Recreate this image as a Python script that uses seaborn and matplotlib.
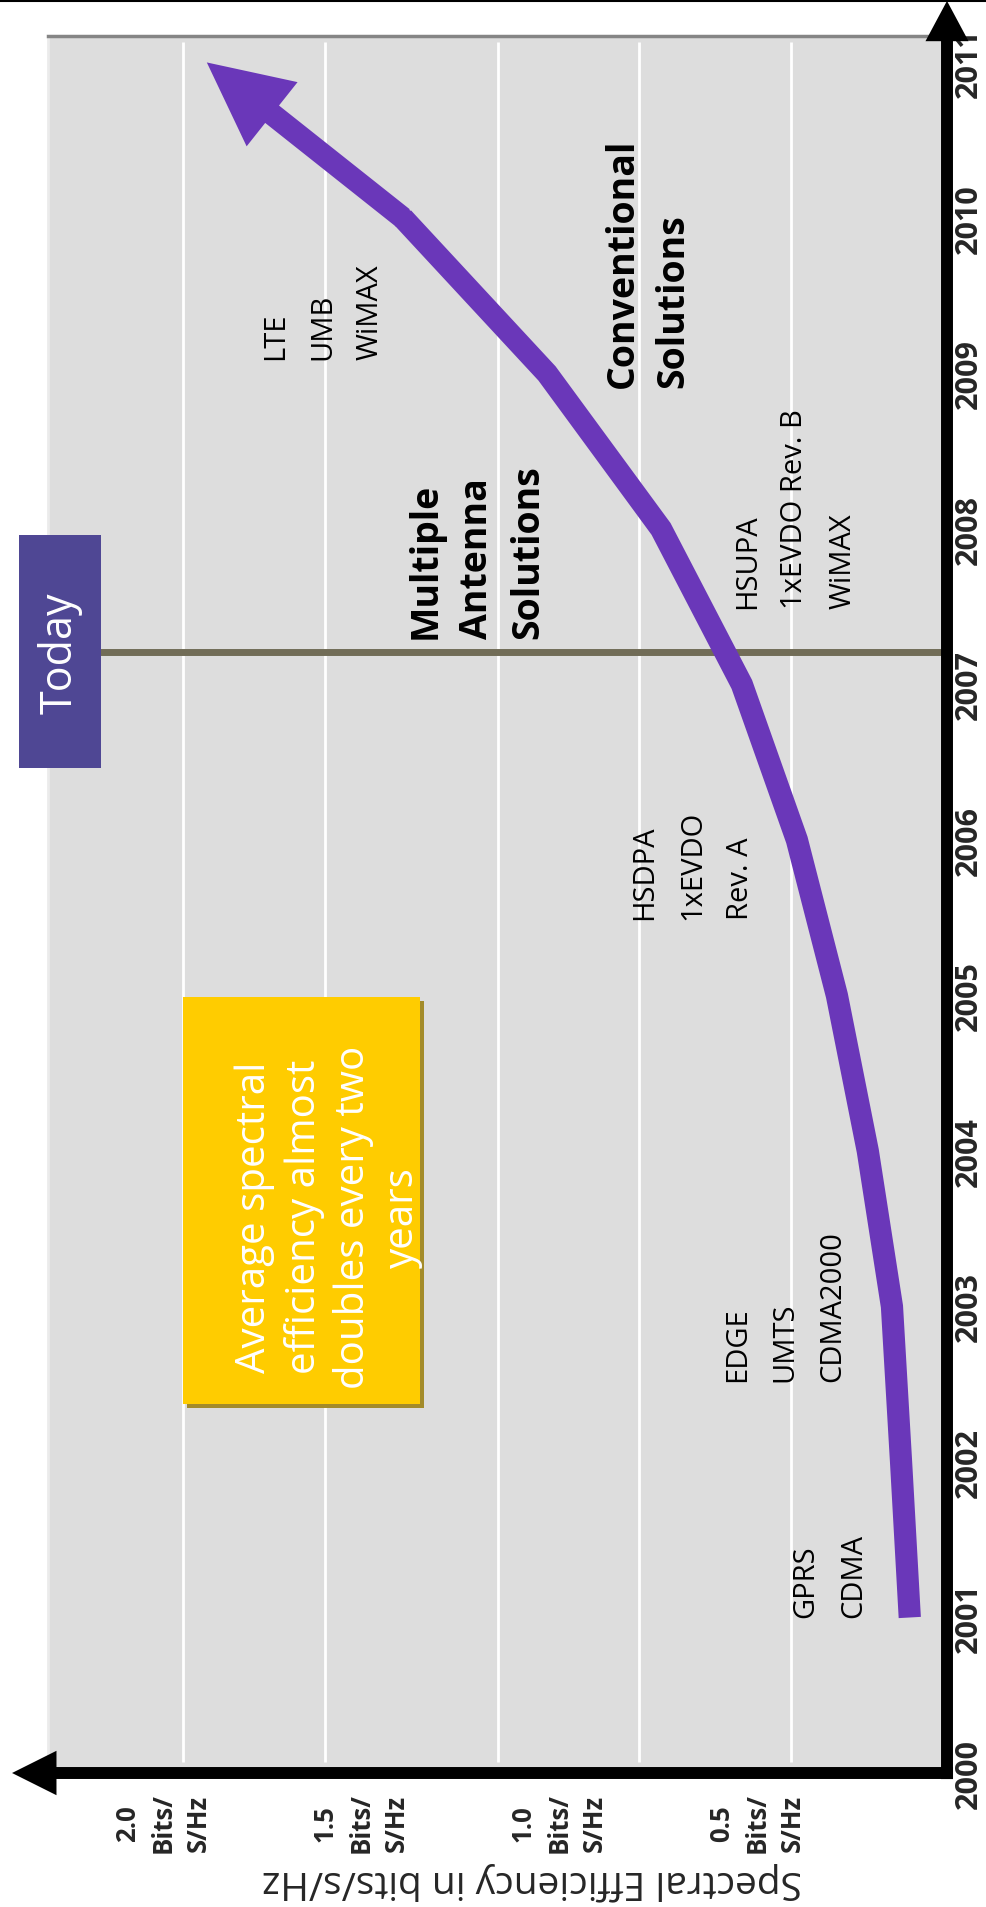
import matplotlib
matplotlib.use('Agg')
import matplotlib.pyplot as plt
from matplotlib.patches import Rectangle
from matplotlib.lines import Line2D
import seaborn as sns

# ---------------- data ----------------
years = [2001, 2002, 2003, 2004, 2005, 2006, 2007, 2008, 2009, 2010]
efficiency = [0.114, 0.136, 0.159, 0.220, 0.298, 0.399, 0.538, 0.742, 1.030, 1.394]
arrow_tip_year = 2011
arrow_tip_eff = 1.889

year_ticks = list(range(2000, 2012))
year_labels = [str(y) for y in year_ticks]
eff_ticks = [2.0, 1.5, 1.0, 0.5]
eff_labels = ['2.0\nBits/\nS/Hz', '1.5\nBits/\nS/Hz', '1.0\nBits/\nS/Hz', '0.5\nBits/\nS/Hz']
grid_eff = [1.949, 1.591, 1.154, 0.798, 0.414]
today_year = 2007.21

tech_labels = ['GPRS\nCDMA', 'EDGE\nUMTS\nCDMA2000', 'HSDPA\n1xEVDO\nRev. A',
               'HSUPA\n1xEVDO Rev. B\nWiMAX', 'LTE\nUMB\nWiMAX']
tech_eff = [0.316, 0.429, 0.662, 0.404, 1.596]
tech_year = [2001.0, 2002.52, 2005.49, 2007.49, 2009.09]

sol_labels = ['Multiple\nAntenna\nSolutions', 'Conventional\nSolutions']
sol_eff = [1.207, 0.775]
sol_year = [2007.30, 2008.91]

note_text = 'Average spectral\nefficiency almost\ndoubles every two\nyears'
ylabel_text = 'Spectral Efficiency in bits/s/Hz'

PURPLE = '#6a37b9'

# ---------------- figure ----------------
sns.set_style('white')
plt.rcParams['font.family'] = ['Open Sans', 'DejaVu Sans']

W, H = 986, 1908
fig = plt.figure(figsize=(W / 100, H / 100), dpi=100)
ax = fig.add_axes([48 / W, 1 - 1774 / H, (947 - 48) / W, (1774 - 37) / H])
ax.set_facecolor('#dddddd')
ax.set_xlim(2.29, 0.02)
ax.set_ylim(2000, 2011.17)

for s in ['right', 'bottom']:
    ax.spines[s].set_visible(False)
ax.spines['left'].set_color('#ebebeb')
ax.spines['left'].set_linewidth(2)
ax.spines['top'].set_color('#858585')
ax.spines['top'].set_linewidth(2.5)

# grid lines
ax.vlines(grid_eff, 2000.07, 2011.13, colors='white', lw=2, zorder=1)

# today line
ax.axhline(today_year, color='#716c57', lw=5, zorder=2)

# curve
sns.lineplot(x=efficiency, y=years, sort=False, estimator=None, color=PURPLE,
             lw=16, ax=ax, zorder=4, solid_capstyle='butt', solid_joinstyle='miter')
ax.plot(efficiency[-1], years[-1], 'o', ms=15, color=PURPLE, mec='none', zorder=4)
ax.annotate('', xy=(arrow_tip_eff, arrow_tip_year), xytext=(efficiency[-1], years[-1]),
            arrowprops=dict(width=16, headwidth=59, headlength=60, color=PURPLE, lw=0),
            zorder=4)

# axis arrows
ax.annotate('', xy=(-0.04, 0), xytext=(1.0067, 0), xycoords='axes fraction',
            textcoords='axes fraction', annotation_clip=False,
            arrowprops=dict(width=8.6, headwidth=32, headlength=32, color='black', lw=0))
ax.annotate('', xy=(1, 1.0202), xytext=(1, -0.0035), xycoords='axes fraction',
            textcoords='axes fraction', annotation_clip=False,
            arrowprops=dict(width=8.6, headwidth=31, headlength=29, color='black', lw=0))

# ticks
ax.set_xticks(eff_ticks)
ax.set_xticklabels(eff_labels, rotation=90, fontweight='bold', fontsize=18.5,
                   linespacing=1.4, ha='center', va='top', multialignment='center')
ax.tick_params(axis='x', length=0, pad=14)
ax.yaxis.tick_right()
ax.set_yticks(year_ticks)
ax.set_yticklabels(year_labels, rotation=90, fontweight='bold', fontsize=22, va='center')
ax.tick_params(axis='y', length=0, pad=5)
ax.set_xlabel('')
ax.set_ylabel('')

# technology labels
for lab, x, y in zip(tech_labels, tech_eff, tech_year):
    ax.text(x, y, lab, rotation=90, rotation_mode='anchor', ha='left', va='center',
            fontsize=21, linespacing=1.85, color='black', zorder=5)
for lab, x, y in zip(sol_labels, sol_eff, sol_year):
    ax.text(x, y, lab, rotation=90, rotation_mode='anchor', ha='left', va='center',
            fontsize=27, fontweight='bold', linespacing=1.45, color='black', zorder=5)

# yellow note box
ax.add_patch(Rectangle((1.351 - 0.010, 2002.37 - 0.026), 1.949 - 1.351, 2004.99 - 2002.37,
                       facecolor='#a38b2a', edgecolor='none', zorder=5))
ax.add_patch(Rectangle((1.351, 2002.37), 1.949 - 1.351, 2004.99 - 2002.37,
                       facecolor='#ffcc00', edgecolor='none', zorder=6))
ax.text(1.581, 2003.58, note_text, rotation=90,
        rotation_mode='anchor', ha='center', va='center', multialignment='center',
        fontsize=29, linespacing=1.27, color='white', zorder=7)

# today box
ax.add_patch(Rectangle((2.157, 2006.46), 2.364 - 2.157, 2007.96 - 2006.46,
                       facecolor='#4f4794', edgecolor='none', zorder=6, clip_on=False))
ax.text((2.157 + 2.364) / 2, (2006.46 + 2007.96) / 2, 'Today', rotation=90,
        rotation_mode='anchor', ha='center', va='center', fontsize=31,
        color='white', zorder=7, clip_on=False)

# y label (upside down)
fig.text(532 / W, 1 - 1881 / H, ylabel_text, rotation=180, ha='center', va='center',
         fontsize=28)

# top border line
fig.add_artist(Line2D([0, 1], [1 - 2 / H, 1 - 2 / H], color='black', lw=1.5,
                      transform=fig.transFigure))

fig.savefig('out.png', dpi=100, facecolor='white')
